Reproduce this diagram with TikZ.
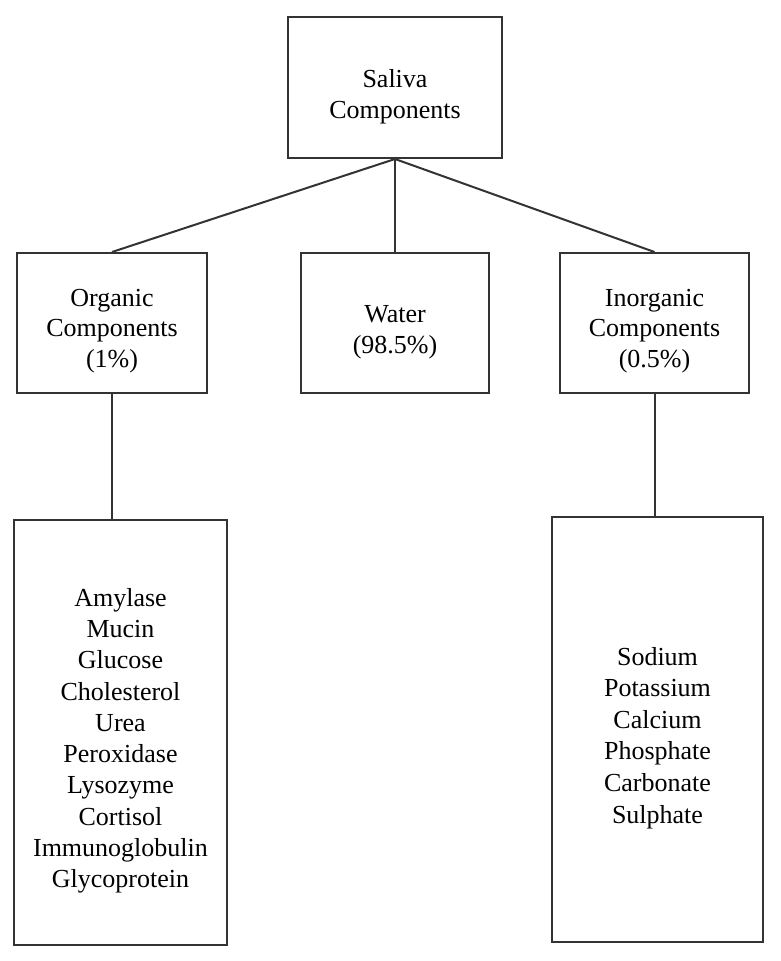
\documentclass[tikz,border=0pt]{standalone}
\usepackage{fontspec}
\setmainfont{Liberation Serif}
\definecolor{boxgray}{HTML}{333333}
\tikzset{
  box/.style={draw=boxgray, line width=2pt, inner sep=0pt, fill=white},
  txt/.style={align=center, inner sep=0pt, text=black, font=\fontsize{26}{30.7}\selectfont},
  link/.style={draw=boxgray, line width=2pt}
}
\begin{document}
\begin{tikzpicture}[x=1pt,y=-1pt]
\useasboundingbox (0,0) rectangle (780,961);
% top
\node[box, minimum width=214, minimum height=141] (top) at (395,87.5) {};
\node[txt] (toptxt) at (395,96.4) {Saliva\\Components};
% middle row
\node[box, minimum width=190, minimum height=140] (org) at (112,323) {};
\node[txt] (orgtxt) at (112,331) {Organic\\Components\\(1\%)};
\node[box, minimum width=188, minimum height=140] (wat) at (395,323) {};
\node[txt] (wattxt) at (395,332) {Water\\(98.5\%)};
\node[box, minimum width=189, minimum height=140] (inorg) at (654.5,323) {};
\node[txt] (inorgtxt) at (654.5,331) {Inorganic\\Components\\(0.5\%)};
% lists
\node[box, minimum width=213, minimum height=425] (orglist) at (120.5,732.5) {};
\node[txt, font=\fontsize{26}{31.3}\selectfont] (orglisttxt) at (120.5,740.8)
  {Amylase\\Mucin\\Glucose\\Cholesterol\\Urea\\Peroxidase\\Lysozyme\\Cortisol\\Immunoglobulin\\Glycoprotein};
\node[box, minimum width=211, minimum height=425] (inlist) at (657.5,729.5) {};
\node[txt, font=\fontsize{26}{31.6}\selectfont] (inlisttxt) at (657.5,737.8)
  {Sodium\\Potassium\\Calcium\\Phosphate\\Carbonate\\Sulphate};
% connectors
\draw[link] (top.south) -- (org.north);
\draw[link] (top.south) -- (wat.north);
\draw[link] (top.south) -- (inorg.north);
\draw[link] (org.south) -- (org.south |- orglist.north);
\draw[link] (inorg.south) -- (inorg.south |- inlist.north);
\end{tikzpicture}
\end{document}
